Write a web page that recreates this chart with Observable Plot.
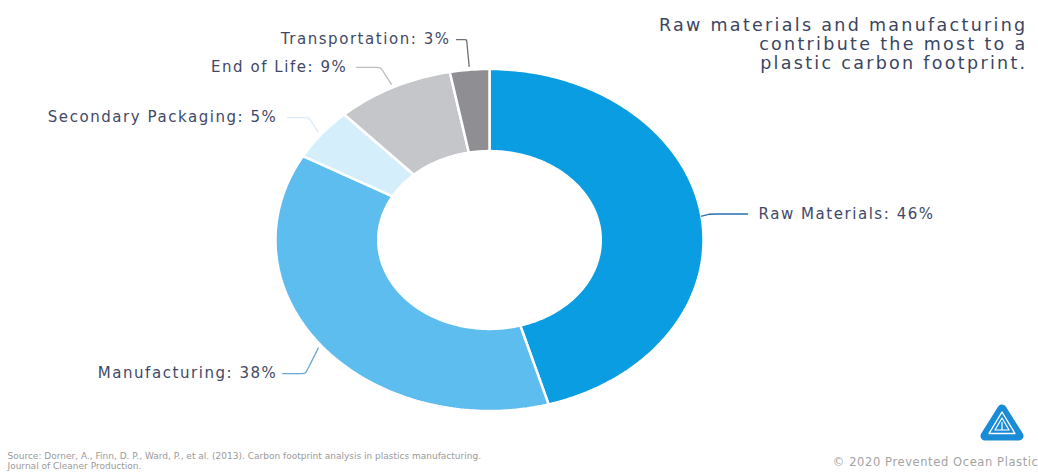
<!DOCTYPE html>
<html><head><meta charset="utf-8">
<script src="https://cdn.jsdelivr.net/npm/d3@7"></script>
<script src="https://cdn.jsdelivr.net/npm/@observablehq/plot@0.6"></script>
<style>
body{margin:0;background:#fff;}
#wrap{position:relative;width:1038px;height:473px;overflow:hidden;background:#fff;}
#logo{position:absolute;left:980px;top:404px;}
</style></head><body><div id="wrap"></div>
<script>
// ---- data ----
const categories = ["Raw Materials", "Manufacturing", "Secondary Packaging", "End of Life", "Transportation"];
const shares = [46, 38, 5, 9, 3];
const sliceColors = ["#0a9de2", "#5cbdee", "#d4effb", "#c5c6c9", "#8f8e93"];
const leaderColors = ["#2a6fb3", "#6aa8d8", "#dcebf5", "#bdbec2", "#6f6f76"];
const titleLines = ["Raw materials and manufacturing", "contribute the most to a", "plastic carbon footprint."];
const sourceLines = ["Source: Dorner, A., Finn, D. P., Ward, P., et al. (2013). Carbon footprint analysis in plastics manufacturing.", "Journal of Cleaner Production."];
const copyright = "© 2020 Prevented Ocean Plastic";

// ---- layout (label placement in unit-donut coordinates) ----
const labelLayout = [
  {tx: 1.257, ty: 0.152, kx: 1.03, ex: 1.206, anchor: "start", sr: 1.0},
  {tx: -0.991, ty: -0.781, kx: -0.86, ex: -0.967, anchor: "end", sr: 1.02},
  {tx: -0.991, ty: 0.716, kx: -0.846, ex: -0.944, anchor: "end", sr: 1.02},
  {tx: -0.664, ty: 1.009, kx: -0.509, ex: -0.621, anchor: "end", sr: 1.02},
  {tx: -0.182, ty: 1.172, kx: -0.107, ex: -0.154, anchor: "end", sr: 1.02}
];
const innerRatio = 0.52;

// ---- build slices ----
const total = d3.sum(shares);
const slicePts = [];
const mids = [];
let cum = 0;
categories.forEach((cat, i) => {
  const a0 = cum / total * 2 * Math.PI;
  cum += shares[i];
  const a1 = cum / total * 2 * Math.PI;
  mids.push((a0 + a1) / 2);
  const n = Math.max(4, Math.ceil((a1 - a0) * 180 / Math.PI));
  const ring = [];
  for (let k = 0; k <= n; k++) { const a = a0 + (a1 - a0) * k / n; ring.push({cat, x: Math.sin(a), y: Math.cos(a)}); }
  for (let k = n; k >= 0; k--) { const a = a0 + (a1 - a0) * k / n; ring.push({cat, x: innerRatio * Math.sin(a), y: innerRatio * Math.cos(a)}); }
  ring.push(ring[0]);
  slicePts.push(...ring);
});

const labels = categories.map((cat, i) => ({cat, text: `${cat}: ${shares[i]}%`, ...labelLayout[i]}));

const leaderMarks = categories.map((cat, i) => {
  const L = labelLayout[i], a = mids[i];
  const pts = [
    {x: L.sr * Math.sin(a), y: L.sr * Math.cos(a)},
    {x: L.kx, y: L.ty}, {x: L.kx, y: L.ty},
    {x: L.ex, y: L.ty}
  ];
  return Plot.line(pts, {x: "x", y: "y", stroke: leaderColors[i], strokeWidth: 1.3, curve: "basis"});
});

const font = "DejaVu Sans, sans-serif";

const chart = Plot.plot({
  width: 1038, height: 473,
  marginTop: 0, marginRight: 0, marginBottom: 0, marginLeft: 0,
  x: {domain: [-1, 1], range: [275, 703], axis: null},
  y: {domain: [-1, 1], range: [410.5, 68.5], axis: null},
  color: {domain: categories, range: sliceColors},
  style: {background: "#fff"},
  marks: [
    Plot.line(slicePts, {x: "x", y: "y", z: "cat", fill: "cat", stroke: "white", strokeWidth: 2.5, strokeLinejoin: "miter"}),
    ...leaderMarks,
    Plot.text(labels.filter(d => d.anchor === "start"), {x: "tx", y: "ty", text: "text", textAnchor: "start", fontSize: 15, fontFamily: font, fill: "#3f4967"}),
    Plot.text(labels.filter(d => d.anchor === "end"), {x: "tx", y: "ty", text: "text", textAnchor: "end", fontSize: 15, fontFamily: font, fill: "#3f4967"}),
    Plot.text([titleLines.join("\n")], {frameAnchor: "top-right", dx: -11, dy: 43.5, lineAnchor: "middle", textAnchor: "end", fontSize: 17.5, lineHeight: 18.6 / 17.5, fontFamily: font, fill: "#3b4562"}),
    Plot.text([sourceLines.join("\n")], {frameAnchor: "bottom-left", dx: 7, dy: -13, lineAnchor: "middle", textAnchor: "start", fontSize: 9, lineHeight: 10 / 9, fontFamily: font, fill: "#9a9a9a"}),
    Plot.text([copyright], {frameAnchor: "bottom-right", dx: 0, dy: -11, lineAnchor: "middle", textAnchor: "end", fontSize: 11.5, fontFamily: font, fill: "#a3a3a3"})
  ]
});

// letter-spacing to approximate the wide geometric typeface of the original
const spacing = {"17.5": "2.3px", "15": "1.55px", "11.5": "0.6px"};
d3.select(chart).selectAll("g[font-size]").each(function() {
  const s = spacing[this.getAttribute("font-size")];
  if (s) this.setAttribute("letter-spacing", s);
});
document.getElementById("wrap").appendChild(chart);

// decorative logo
const logo = document.createElementNS("http://www.w3.org/2000/svg", "svg");
logo.setAttribute("id", "logo");
logo.setAttribute("width", "44");
logo.setAttribute("height", "38");
logo.innerHTML = `
  <polygon points="22,5 39,32 5,32" fill="#1a8bd6" stroke="#1a8bd6" stroke-width="9" stroke-linejoin="round"/>
  <polygon points="22,8 35,29.5 9,29.5" fill="none" stroke="#ffffff" stroke-width="1.4" stroke-linejoin="round"/>
  <polygon points="22,14 29,26 15,26" fill="none" stroke="#ffffff" stroke-width="1.2" stroke-linejoin="round"/>
  <line x1="22" y1="18" x2="22" y2="26" stroke="#fff" stroke-width="1.2"/>`;
document.getElementById("wrap").appendChild(logo);
</script>
</body></html>
